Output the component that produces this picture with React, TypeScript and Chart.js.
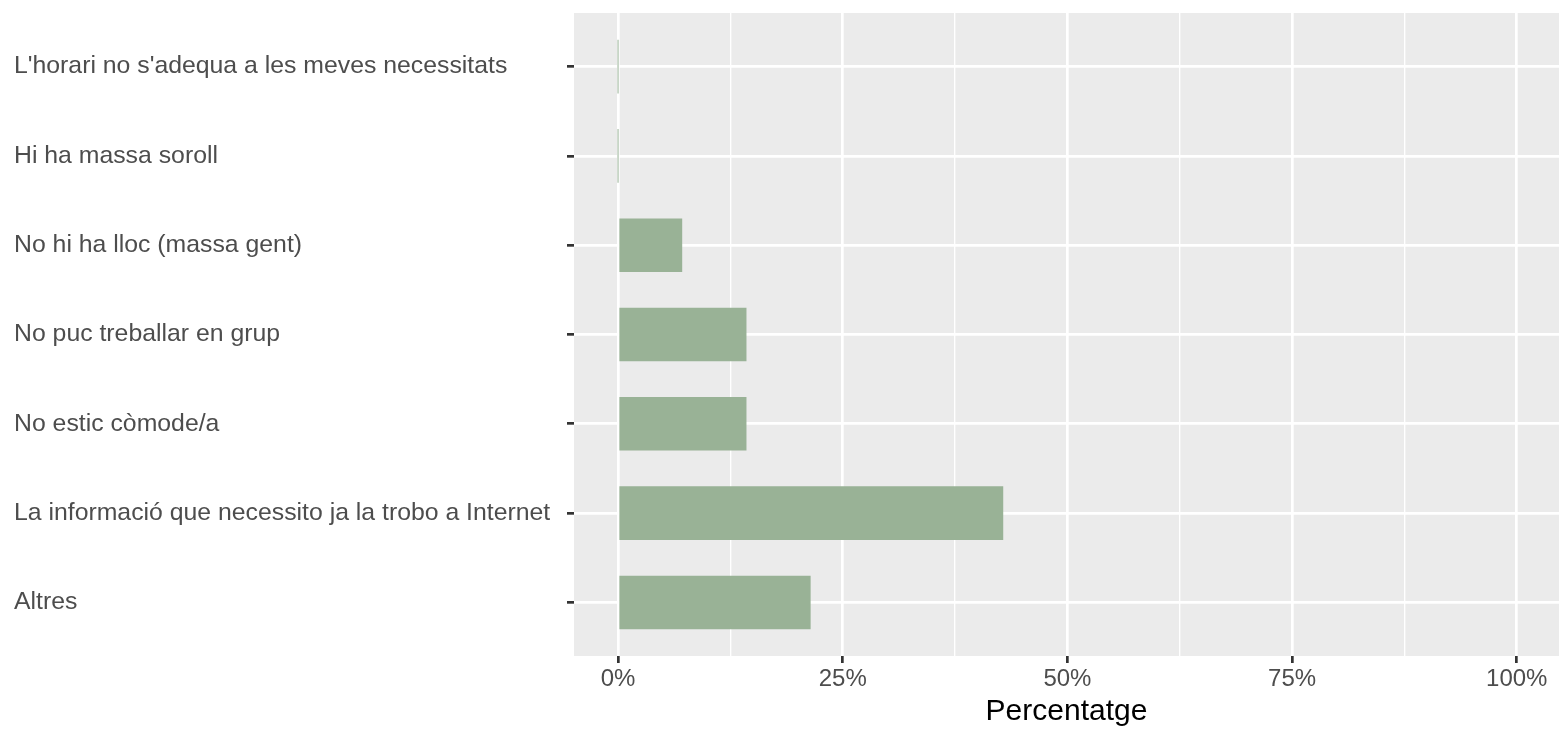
import React, { useEffect, useRef } from 'react';
import { Chart, registerables } from 'chart.js';

Chart.register(...registerables);

const categories: string[] = [
  "L'horari no s'adequa a les meves necessitats",
  'Hi ha massa soroll',
  'No hi ha lloc (massa gent)',
  'No puc treballar en grup',
  'No estic còmode/a',
  'La informació que necessito ja la trobo a Internet',
  'Altres',
];
const percentages: number[] = [0, 0, 7.14, 14.29, 14.29, 42.86, 21.43];
const xTickValues: number[] = [0, 12.5, 25, 37.5, 50, 62.5, 75, 87.5, 100];
const xMajorTicks: number[] = [0, 25, 50, 75, 100];
const xTitle = 'Percentatge';

const FONT = "'Liberation Sans', Arial, sans-serif";
const isMajor = (v: number) => xMajorTicks.includes(v);

const panelBg = {
  id: 'panelBg',
  beforeDraw(chart: any) {
    const { ctx, chartArea } = chart;
    ctx.save();
    ctx.fillStyle = '#EBEBEB';
    ctx.fillRect(chartArea.left, chartArea.top, chartArea.right - chartArea.left, chartArea.bottom - chartArea.top);
    ctx.restore();
  },
};

export default function App() {
  const ref = useRef<HTMLCanvasElement | null>(null);

  useEffect(() => {
    document.body.style.margin = '0';
    const canvas = ref.current;
    if (!canvas) return;
    const chart = new Chart(canvas, {
      type: 'bar',
      data: {
        datasets: [
          {
            data: percentages.map((v, i) => ({ x: v, y: i })),
            backgroundColor: '#99B296',
            borderWidth: 0,
            barPercentage: 0.6,
            categoryPercentage: 1,
            minBarLength: 1,
          },
        ],
      },
      options: {
        indexAxis: 'y',
        responsive: false,
        animation: false,
        devicePixelRatio: 1,
        layout: { padding: { left: 14, top: 13, right: 0, bottom: 0 } },
        plugins: {
          legend: { display: false },
          tooltip: { enabled: false },
        },
        scales: {
          x: {
            type: 'linear',
            position: 'bottom',
            min: -4.9,
            max: 104.7,
            offset: false,
            afterBuildTicks: (axis: any) => {
              axis.ticks = xTickValues.map((v) => ({ value: v }));
            },
            afterFit: (axis: any) => {
              axis.height = 74;
              axis.paddingLeft = 0;
              axis.paddingRight = 0;
            },
            ticks: {
              autoSkip: false,
              maxRotation: 0,
              padding: 2,
              color: '#4D4D4D',
              font: { family: FONT, size: 24 },
              callback: (v: any) => (isMajor(Number(v)) ? `${v}%` : ''),
            },
            grid: {
              offset: false,
              color: '#FFFFFF',
              lineWidth: (c: any) => (c.tick && isMajor(c.tick.value) ? 2.7 : 1.35),
              tickColor: (c: any) => (c.tick && isMajor(c.tick.value) ? '#333333' : 'rgba(0,0,0,0)'),
              tickWidth: 2.7,
              tickLength: 7,
            },
            border: { display: false },
            title: {
              display: true,
              text: xTitle,
              color: '#000000',
              font: { family: FONT, size: 30 },
              padding: { top: 0, bottom: 0 },
            },
          },
          y: {
            type: 'linear',
            min: -0.6,
            max: 6.6,
            reverse: true,
            offset: false,
            afterBuildTicks: (axis: any) => {
              axis.ticks = categories.map((_, i) => ({ value: i }));
            },
            afterFit: (axis: any) => {
              axis.width = 560;
              axis.paddingTop = 0;
              axis.paddingBottom = 0;
            },
            ticks: {
              autoSkip: false,
              crossAlign: 'far',
              padding: 4,
              color: '#4D4D4D',
              font: { family: FONT, size: 24.8 },
              callback: (v: any) => categories[Number(v)] ?? '',
            },
            grid: {
              offset: false,
              color: '#FFFFFF',
              lineWidth: 2.7,
              tickColor: '#333333',
              tickWidth: 2.7,
              tickLength: 7,
            },
            border: { display: false },
          },
        },
      } as any,
      plugins: [panelBg],
    });
    return () => chart.destroy();
  }, []);

  return (
    <canvas
      ref={ref}
      width={1559}
      height={730}
      style={{ position: 'fixed', left: 0, top: 0, width: 1559, height: 730, display: 'block' }}
    />
  );
}
